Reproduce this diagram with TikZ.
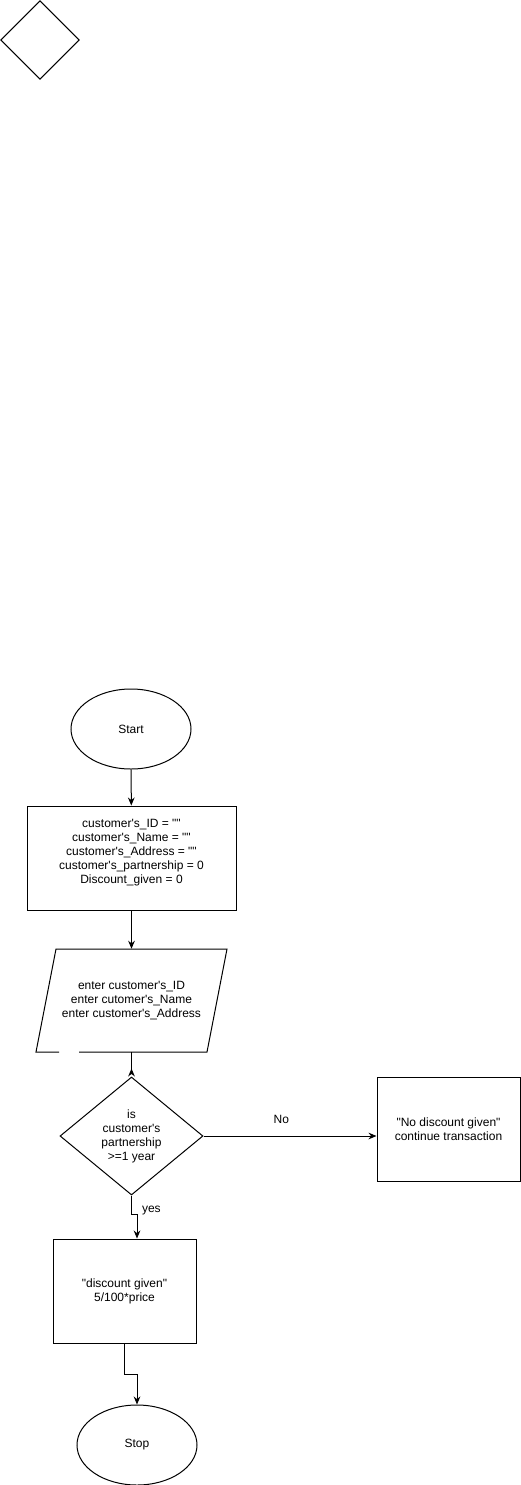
\documentclass[tikz,border=0pt]{standalone}
\usepackage{fontspec}
\setmainfont{Liberation Sans}[Ligatures=TeXOff]
\usetikzlibrary{shapes.geometric,arrows.meta}
\newcommand{\flow}[2]{\draw[arr] (#1) -- (#2)}
\tikzset{
	every node/.style={font=\fontsize{9pt}{10.5pt}\selectfont, align=center, inner sep=0pt},
	epais/.style={line width=0.75pt},
	arr/.style={epais, -{Stealth[length=6pt,width=5pt]}},
	term/.style={draw, epais, ellipse, minimum width=90pt, minimum height=60pt},
	box/.style={draw, epais, rectangle, minimum width=107.25pt, minimum height=78pt},
	test/.style={draw, epais, diamond, aspect=1}
}

\begin{document}
\begin{tikzpicture}[x=0.75pt, y=-0.75pt]
	\useasboundingbox (0,0) rectangle (521,1485);
%Stray shape
	\node[test, minimum width=59pt, minimum height=59pt] (lone) at (40,40) {};
%Start and setup
	\node[term] (start) at (131,729) {Start};
	\node[box, minimum width=156.75pt] (init) at (131.5,858)
		{customer's\_ID = ""\\customer's\_Name = ""\\customer's\_Address = ""\\customer's\_partnership = 0\\Discount\_given = 0\\\mbox{}};
%Input
	\node[minimum width=143.25pt, minimum height=77.25pt] (input) at (131.5,1000.5)
		{enter customer's\_ID\\enter cutomer's\_Name\\enter customer's\_Address};
	\draw[epais] (79,1052) -- (207,1052) -- (227,949) -- (56,949) -- (36,1052) -- (59,1052);
%Decision
	\node[test, minimum width=107.25pt, minimum height=88.5pt] (check) at (131.5,1136)
		{is\\customer's\\partnership\\>=1 year};
	\node[box] (nodisc) at (448.5,1129) {"No discount given"\\continue transaction};
	\node[box] (disc) at (124.5,1291) {"discount given"\\5/100*price};
	\node[term] (stop) at (137,1445) {Stop};
%Arrows
	\flow{start}{init};
	\flow{init}{input.north};
	\draw[epais, -{Stealth[length=6pt,width=5pt,reversed]}] (input.south) -- (check.north);
	\flow{check.east}{check.east -| nodisc.west} node[pos=0.45, yshift=12.75pt] (no) {No};
	\draw[arr] (check.south) -- ++(0,19) node[pos=0.8, right=7.5pt] (yes) {yes}
		-| ([xshift=9.375pt]disc.north);
	\draw[arr] (disc.south) -- ++(0,31) -| (stop.north);
\end{tikzpicture}
\end{document}
